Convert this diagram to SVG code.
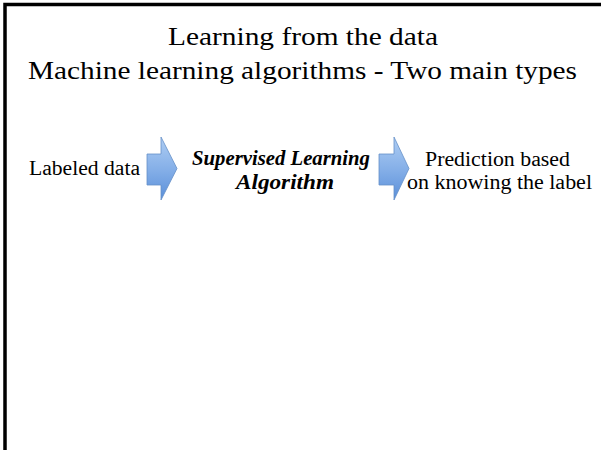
<svg xmlns="http://www.w3.org/2000/svg" width="601" height="450" viewBox="0 0 601 450">
  <style>
    .title { font-family: "Liberation Serif", "DejaVu Serif", serif; font-size: 25px; fill: #000; }
    .label { font-family: "Liberation Serif", "DejaVu Serif", serif; font-size: 20px; fill: #000; }
    .algo { font-family: "Liberation Serif", "DejaVu Serif", serif; font-size: 20px; font-weight: bold; font-style: italic; fill: #000; }
    .block-arrow { fill: url(#arrowFill); stroke: #6690c8; stroke-width: 0.8; }
  </style>
  <defs>
    <linearGradient id="arrowFill" x1="0" y1="0" x2="0" y2="1">
      <stop offset="0" stop-color="#aecdf3"/>
      <stop offset="0.5" stop-color="#86b0e8"/>
      <stop offset="1" stop-color="#5a8fd9"/>
    </linearGradient>
  </defs>

  <rect x="0" y="0" width="601" height="450" fill="#ffffff"/>
  <!-- frame: left and top edges only -->
  <path d="M5 450 V4.5 H601" fill="none" stroke="#000" stroke-width="3.5"/>

  <g id="title">
    <text class="title" x="168" y="45" textLength="270" lengthAdjust="spacingAndGlyphs">Learning from the data</text>
    <text class="title" x="28" y="79" textLength="549" lengthAdjust="spacingAndGlyphs">Machine learning algorithms - Two main types</text>
  </g>

  <g id="labeled-data">
    <text class="label" x="29" y="175" textLength="111" lengthAdjust="spacingAndGlyphs">Labeled data</text>
  </g>

  <g id="supervised-algorithm">
    <text class="algo" x="192" y="165" textLength="178" lengthAdjust="spacingAndGlyphs">Supervised Learning</text>
    <text class="algo" x="236" y="189" textLength="98" lengthAdjust="spacingAndGlyphs">Algorithm</text>
  </g>

  <g id="prediction">
    <text class="label" x="425" y="166" textLength="145" lengthAdjust="spacingAndGlyphs">Prediction based</text>
    <text class="label" x="407" y="189" textLength="185" lengthAdjust="spacingAndGlyphs">on knowing the label</text>
  </g>

  <g id="connectors">
    <polygon class="block-arrow" points="147,154 161,154 161,137 177,168.5 161,200 161,185 147,185"/>
    <polygon class="block-arrow" points="379,154 394,154 394,137 409,168.5 394,200 394,185 379,185"/>
  </g>
</svg>
